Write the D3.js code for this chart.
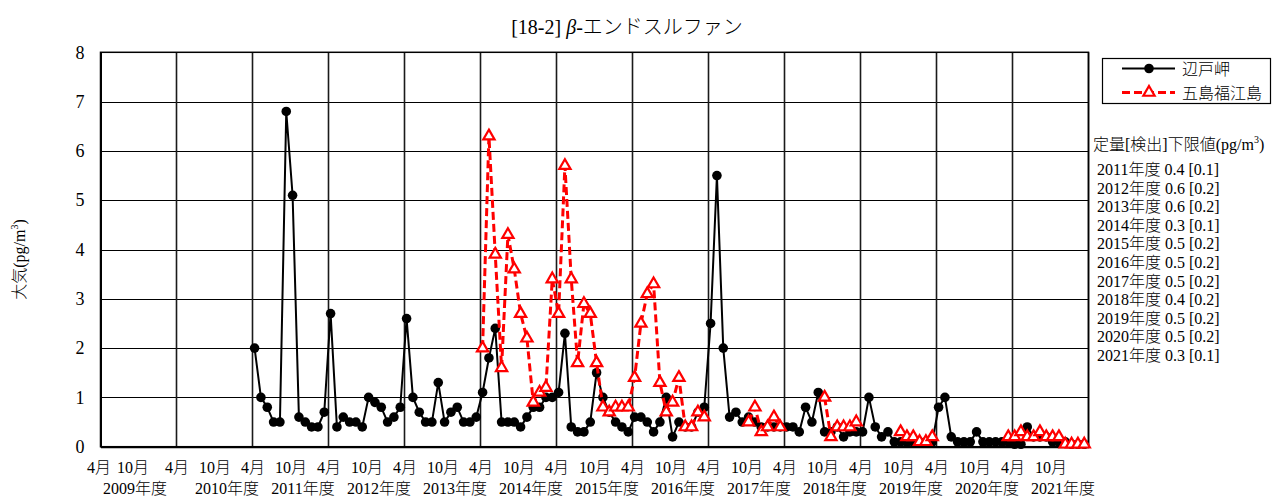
<!DOCTYPE html>
<html>
<head>
<meta charset="utf-8">
<script src="https://cdn.jsdelivr.net/npm/d3@7"></script>
<style>
  body { margin: 0; background: #fff; }
  svg text { font-family: "Liberation Serif", "Times New Roman", "Noto Sans CJK JP", serif; fill: #000; font-weight: 300; }
</style>
</head>
<body>
<div id="chart"></div>
<script>
/**
 * DATA
 * monthly values, index 0 = April of the first fiscal year shown
 * */
const fiscalYears = [2009, 2010, 2011, 2012, 2013, 2014, 2015, 2016, 2017, 2018, 2019, 2020, 2021];
const monthTickLabels = ["4月", "10月"];
const yTicks = [0, 1, 2, 3, 4, 5, 6, 7, 8];
const seriesNames = ["辺戸岬", "五島福江島"];

// 辺戸岬 from 2011年4月
const hedoStart = 24;
const hedoValues = [
  2.0, 1.0, 0.8, 0.5, 0.5, 6.8, 5.1, 0.6, 0.5, 0.4, 0.4, 0.7,
  2.7, 0.4, 0.6, 0.5, 0.5, 0.4, 1.0, 0.9, 0.8, 0.5, 0.6, 0.8,
  2.6, 1.0, 0.7, 0.5, 0.5, 1.3, 0.5, 0.7, 0.8, 0.5, 0.5, 0.6,
  1.1, 1.8, 2.4, 0.5, 0.5, 0.5, 0.4, 0.6, 0.8, 0.8, 1.0, 1.0,
  1.1, 2.3, 0.4, 0.3, 0.3, 0.5, 1.5, 1.0, 0.7, 0.5, 0.4, 0.3,
  0.6, 0.6, 0.5, 0.3, 0.5, 1.0, 0.2, 0.5, 0.4, 0.4, 0.7, 0.8,
  2.5, 5.5, 2.0, 0.6, 0.7, 0.5, 0.6, 0.5, 0.4, 0.4, 0.4, 0.4,
  0.4, 0.4, 0.3, 0.8, 0.5, 1.1, 0.3, 0.3, 0.4, 0.2, 0.3, 0.3,
  0.3, 1.0, 0.4, 0.2, 0.3, 0.1, 0.1, 0.1, 0.1, 0.1, 0.1, 0.1,
  0.8, 1.0, 0.2, 0.1, 0.1, 0.1, 0.3, 0.1, 0.1, 0.1, 0.1, 0.1,
  0.05, 0.05, 0.4, 0.2, 0.2, 0.2, 0.1, 0.1, 0.1, 0.05, 0.05, 0.05
];

// 五島福江島 from 2014年4月 (null = no measurement)
const fukueStart = 60;
const fukueValues = [
  2.0, 6.3, 3.9, 1.6, 4.3, 3.6, 2.7, 2.2, 0.9, 1.1, 1.2, 3.4,
  2.7, 5.7, 3.4, 1.7, 2.9, 2.7, 1.7, 0.8, 0.7, 0.8, 0.8, 0.8,
  1.4, 2.5, 3.1, 3.3, 1.3, 0.7, 0.9, 1.4, 0.4, 0.4, 0.7, 0.6,
  null, null, null, null, null, null, 0.5, 0.8, 0.3, 0.4, 0.6, 0.4,
  null, null, null, null, null, null, 1.0, 0.2, 0.4, 0.4, 0.4, 0.5,
  null, null, null, null, null, null, 0.3, 0.2, 0.2, 0.1, 0.1, 0.2,
  null, null, null, null, null, null, null, null, null, null, null, 0.2,
  0.2, 0.3, 0.2, 0.2, 0.3, 0.2, 0.2, 0.2, 0.05, 0.05, 0.05, 0.05
];

// 定量[検出]下限値
const limitYears = [2011, 2012, 2013, 2014, 2015, 2016, 2017, 2018, 2019, 2020, 2021];
const limitQuant = ["0.4", "0.6", "0.6", "0.3", "0.5", "0.5", "0.5", "0.4", "0.5", "0.5", "0.3"];
const limitDetect = ["0.1", "0.2", "0.2", "0.1", "0.2", "0.2", "0.2", "0.2", "0.2", "0.2", "0.1"];

/**
 * CONSTANTS AND GLOBALS
 * */
const width = 1273,
  height = 497,
  plot = { left: 100.5, right: 1088.5, top: 52.3, bottom: 446.7 };

let svg, x, y;

function init() {
  svg = d3.select("#chart").append("svg")
    .attr("width", width)
    .attr("height", height);

  x = d3.scaleLinear().domain([0, fiscalYears.length * 12]).range([plot.left, plot.right]);
  y = d3.scaleLinear().domain([0, 8]).range([plot.bottom, plot.top]);

  drawGrid();
  drawAxes();
  drawSeries();
  drawLegend();
  drawTitle();
}

function drawGrid() {
  const g = svg.append("g");
  // horizontal lines
  g.selectAll(".hgrid")
    .data(yTicks.filter(v => v > 0))
    .join("line")
    .attr("x1", plot.left).attr("x2", plot.right)
    .attr("y1", d => Math.round(y(d)) + 0.5).attr("y2", d => Math.round(y(d)) + 0.5)
    .attr("stroke", "#000").attr("stroke-width", 1);
  // one vertical line every April
  g.selectAll(".vgrid")
    .data(d3.range(1, fiscalYears.length + 1))
    .join("line")
    .attr("x1", d => x(d * 12)).attr("x2", d => x(d * 12))
    .attr("y1", plot.top).attr("y2", plot.bottom)
    .attr("stroke", "#1a1a1a").attr("stroke-width", 1.6);
}

function drawAxes() {
  const yAxis = d3.axisLeft(y).tickValues(yTicks).tickSize(0).tickPadding(16);
  svg.append("g")
    .attr("transform", `translate(${plot.left},0)`)
    .call(yAxis)
    .call(g => g.select(".domain").attr("stroke", "#000").attr("stroke-width", 2))
    .selectAll("text").attr("font-size", 18);

  const monthTicks = fiscalYears.flatMap((fy, k) => [k * 12, k * 12 + 6]);
  const xAxis = d3.axisBottom(x)
    .tickValues(monthTicks)
    .tickSize(0)
    .tickPadding(15)
    .tickFormat(d => monthTickLabels[(d % 12) / 6]);
  svg.append("g")
    .attr("transform", `translate(0,${plot.bottom})`)
    .call(xAxis)
    .call(g => g.select(".domain").attr("stroke", "#000").attr("stroke-width", 2))
    .selectAll("text")
    .attr("font-size", 16)
    .attr("dx", d => (d === 6 ? -6 : d === 0 ? -2 : 0));

  const yearAxis = d3.axisBottom(x)
    .tickValues(fiscalYears.map((fy, k) => k * 12 + 6))
    .tickSize(0)
    .tickPadding(36)
    .tickFormat((d, i) => `${fiscalYears[i]}年度`);
  svg.append("g")
    .attr("transform", `translate(0,${plot.bottom})`)
    .call(yearAxis)
    .call(g => g.select(".domain").remove())
    .selectAll("text")
    .attr("font-size", 16)
    .attr("dx", d => (d === 6 ? -4 : 12));

  // frame top / right
  svg.append("rect")
    .attr("x", plot.left).attr("y", plot.top)
    .attr("width", plot.right - plot.left).attr("height", plot.bottom - plot.top)
    .attr("fill", "none").attr("stroke", "#000").attr("stroke-width", 1.5);

  // y axis title
  const yt = svg.append("text")
    .attr("transform", `translate(25,${(plot.top + plot.bottom) / 2 + 10}) rotate(-90)`)
    .attr("text-anchor", "middle")
    .attr("font-size", 16);
  yt.append("tspan").text("大気(pg/m");
  yt.append("tspan").attr("font-size", 10).attr("dy", -7).text("3");
  yt.append("tspan").attr("dy", 7).text(")");
}

function toPoints(start, values) {
  return values.map((v, i) => ({ i: start + i, v }));
}

function drawSeries() {
  const hedo = toPoints(hedoStart, hedoValues);
  const fukue = toPoints(fukueStart, fukueValues);
  const px = d => x(d.i + 0.33);

  const line = d3.line()
    .defined(d => d.v != null)
    .x(px)
    .y(d => y(d.v));

  // 辺戸岬
  svg.append("path")
    .datum(hedo)
    .attr("d", line)
    .attr("fill", "none")
    .attr("stroke", "#000")
    .attr("stroke-width", 2);
  svg.append("g")
    .selectAll("circle")
    .data(hedo)
    .join("circle")
    .attr("cx", px)
    .attr("cy", d => y(d.v))
    .attr("r", 4.8)
    .attr("fill", "#000");

  // 五島福江島
  svg.append("path")
    .datum(fukue)
    .attr("d", line)
    .attr("fill", "none")
    .attr("stroke", "#ff0000")
    .attr("stroke-width", 3)
    .attr("stroke-dasharray", "8,4");
  const tri = d3.symbol(d3.symbolTriangle, 55);
  svg.append("g")
    .selectAll("path")
    .data(fukue.filter(d => d.v != null))
    .join("path")
    .attr("d", tri)
    .attr("transform", d => `translate(${px(d)},${y(d.v)})`)
    .attr("fill", "#fff")
    .attr("stroke", "#ff0000")
    .attr("stroke-width", 2.2);
}

function drawLegend() {
  const g = svg.append("g");
  g.append("rect")
    .attr("x", 1102.5).attr("y", 58.5)
    .attr("width", 168).attr("height", 45)
    .attr("fill", "#fff").attr("stroke", "#000").attr("stroke-width", 1.2);

  const rows = [
    { name: seriesNames[0], y: 68.5 },
    { name: seriesNames[1], y: 92.5 }
  ];
  // black
  g.append("line").attr("x1", 1122).attr("x2", 1175).attr("y1", rows[0].y).attr("y2", rows[0].y)
    .attr("stroke", "#000").attr("stroke-width", 2);
  g.append("circle").attr("cx", 1149).attr("cy", rows[0].y).attr("r", 4.8).attr("fill", "#000");
  // red
  g.append("line").attr("x1", 1122).attr("x2", 1175).attr("y1", rows[1].y).attr("y2", rows[1].y)
    .attr("stroke", "#ff0000").attr("stroke-width", 3).attr("stroke-dasharray", "8,4");
  g.append("path").attr("d", d3.symbol(d3.symbolTriangle, 55))
    .attr("transform", `translate(1149,${rows[1].y})`)
    .attr("fill", "#fff").attr("stroke", "#ff0000").attr("stroke-width", 2.2);

  g.selectAll(".lbl")
    .data(rows)
    .join("text")
    .attr("x", 1182)
    .attr("y", d => d.y + 6)
    .attr("font-size", 16)
    .text(d => d.name);

  // detection limits
  const head = g.append("text").attr("x", 1093).attr("y", 150).attr("font-size", 16);
  head.append("tspan").text("定量[検出]下限値(pg/m");
  head.append("tspan").attr("font-size", 10).attr("dy", -7).text("3");
  head.append("tspan").attr("dy", 7).text(")");

  g.selectAll(".limit")
    .data(limitYears)
    .join("text")
    .attr("x", 1097)
    .attr("y", (d, i) => 175 + i * 18.6)
    .attr("font-size", 16)
    .text((d, i) => `${d}年度 ${limitQuant[i]} [${limitDetect[i]}]`);
}

function drawTitle() {
  const t = svg.append("text")
    .attr("x", 627)
    .attr("y", 34)
    .attr("text-anchor", "middle")
    .attr("font-size", 20);
  t.append("tspan").text("[18-2] ");
  t.append("tspan").attr("font-style", "italic").text("β");
  t.append("tspan").text("-エンドスルファン");
}

init();
</script>
</body>
</html>
